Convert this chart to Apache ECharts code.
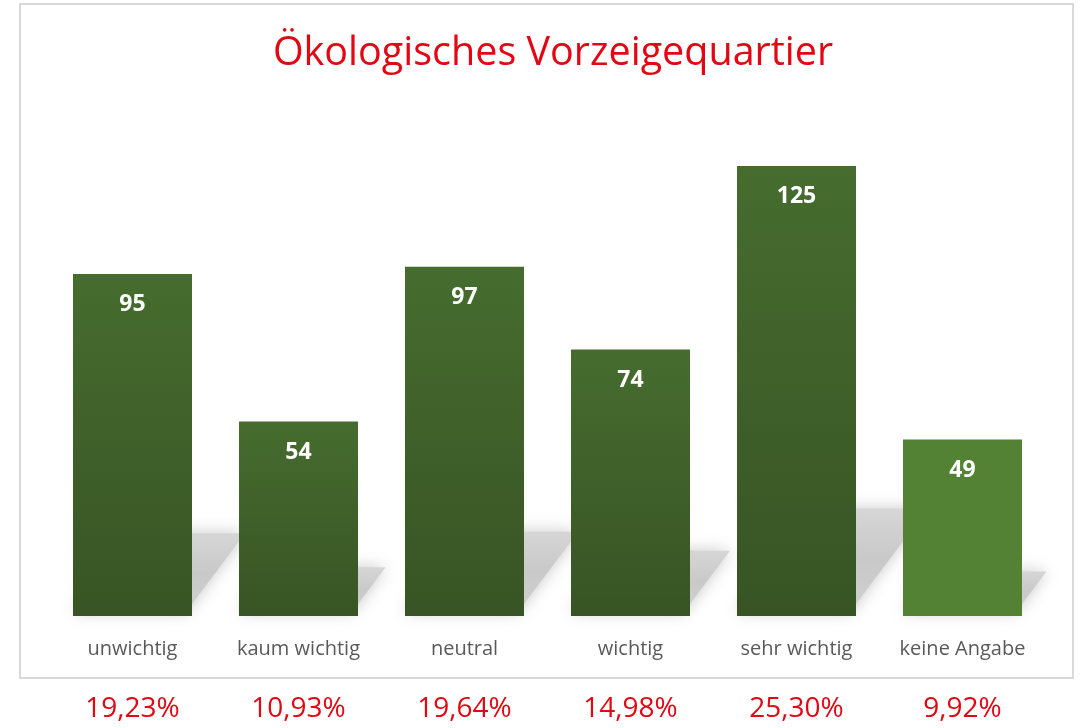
<!DOCTYPE html>
<html>
<head>
<meta charset="utf-8">
<script src="https://cdn.jsdelivr.net/npm/echarts@6/dist/echarts.min.js"></script>
<style>
html,body{margin:0;padding:0;background:#fff;}
#chart{width:1082px;height:728px;}
</style>
</head>
<body>
<div id="chart"></div>
<script>
const categories = ['unwichtig', 'kaum wichtig', 'neutral', 'wichtig', 'sehr wichtig', 'keine Angabe'];
const counts = [95, 54, 97, 74, 125, 49];
const percentLabels = ['19,23%', '10,93%', '19,64%', '14,98%', '25,30%', '9,92%'];
const titleText = 'Ökologisches Vorzeigequartier';

const darkGradient = new echarts.graphic.LinearGradient(0, 0, 0, 1, [
  {offset: 0, color: '#466c2f'},
  {offset: 1, color: '#385424'}
]);
const lightColor = '#548235';

const chart = echarts.init(document.getElementById('chart'), null, {renderer: 'canvas'});

const barData = counts.map((v, i) => ({
  value: v,
  itemStyle: {color: i === counts.length - 1 ? lightColor : darkGradient}
}));

const option = {
  backgroundColor: '#ffffff',
  animation: false,
  title: {
    text: titleText,
    left: 548,
    textAlign: 'center',
    top: 29,
    textStyle: {color: '#e30613', fontSize: 39.5, fontWeight: 'normal', fontFamily: 'Open Sans'}
  },
  graphic: [{
    type: 'rect',
    shape: {x: 20, y: 4, width: 1053, height: 674},
    style: {fill: 'none', stroke: '#d9d9d9', lineWidth: 2},
    silent: true,
    z: -10
  }],
  grid: {left: 49.5, width: 996, top: 112, bottom: 112},
  xAxis: [{
    type: 'category',
    data: categories,
    axisLine: {show: false},
    axisTick: {show: false},
    axisLabel: {color: '#595959', fontSize: 20, fontFamily: 'Open Sans', margin: 23, interval: 0}
  }, {
    type: 'category',
    position: 'bottom',
    data: percentLabels,
    axisLine: {show: false},
    axisTick: {show: false},
    axisLabel: {color: '#e30613', fontSize: 28, fontFamily: 'Open Sans', margin: 79, interval: 0}
  }],
  yAxis: {type: 'value', min: 0, max: 140, show: false, splitLine: {show: false}},
  series: [{
    type: 'custom',
    xAxisIndex: 0,
    z: 1,
    silent: true,
    data: counts.map((v, i) => [i, v]),
    renderItem: function (params, api) {
      const idx = api.value(0);
      const val = api.value(1);
      const base = api.coord([idx, 0]);
      const top = api.coord([idx, val]);
      const band = api.size([1, 0])[0];
      const bw = band * 0.717;
      const xl = base[0] - bw / 2;
      const xr = base[0] + bw / 2;
      const y0 = base[1] - 4;
      const hs = (base[1] - top[1]) * 0.23;
      const dx = hs * 0.75;
      return {
        type: 'polygon',
        shape: {points: [[xl, y0], [xr - 6, y0], [xr - 6 + dx, y0 - hs], [xl + dx, y0 - hs]]},
        style: {
          fill: new echarts.graphic.LinearGradient(0, 0, 0, 1, [
            {offset: 0, color: '#d6d6d6'},
            {offset: 0.5, color: '#c9c9c9'},
            {offset: 1, color: '#d0d0d0'}
          ]),
          shadowBlur: 16,
          shadowColor: 'rgba(200,200,200,1)'
        }
      };
    }
  }, {
    type: 'bar',
    xAxisIndex: 0,
    z: 5,
    barWidth: '71.7%',
    data: barData,
    label: {
      show: true,
      position: 'insideTop',
      distance: 19,
      color: '#ffffff',
      fontSize: 23,
      fontWeight: 'bold',
      fontFamily: 'Open Sans'
    }
  }]
};
chart.setOption(option);
</script>
</body>
</html>
